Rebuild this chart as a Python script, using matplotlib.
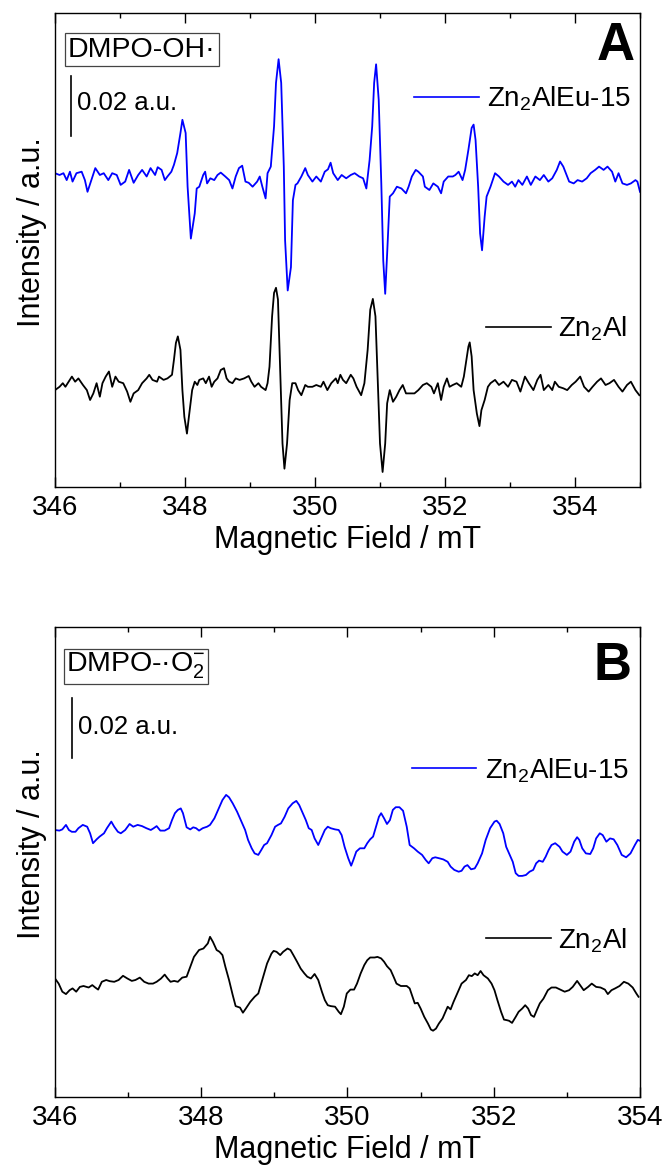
import matplotlib
matplotlib.use("Agg")
import matplotlib.pyplot as plt
from matplotlib.ticker import MultipleLocator

plt.rcParams['font.family'] = ['Liberation Sans', 'DejaVu Sans']
plt.rcParams['mathtext.fontset'] = 'custom'
plt.rcParams['mathtext.rm'] = 'Liberation Sans'
plt.rcParams['mathtext.it'] = 'Liberation Sans:italic'
plt.rcParams['mathtext.bf'] = 'Liberation Sans:bold'
plt.rcParams['lines.solid_joinstyle'] = 'round'

# ---------------- DATA (field in mT, intensity in 1e-3 a.u.) ----------------
# Panel A: DMPO-OH·
fieldA_eu = [346.00,346.07,346.13,346.18,346.23,346.27,346.33,346.41,346.46,346.50,346.56,346.62,346.69,346.75,346.82,346.88,346.95,347.01,347.08,347.14,
             347.21,347.28,347.34,347.41,347.47,347.54,347.58,347.64,347.69,347.73,347.79,347.83,347.88,347.93,347.96,348.01,348.04,348.09,348.15,348.18,
             348.22,348.28,348.31,348.34,348.39,348.45,348.50,348.55,348.62,348.68,348.73,348.78,348.83,348.88,348.93,348.98,349.04,349.11,349.15,349.19,
             349.24,349.27,349.32,349.37,349.40,349.44,349.48,349.52,349.54,349.58,349.63,349.66,349.70,349.73,349.79,349.85,349.89,349.96,350.02,350.09,
             350.15,350.20,350.24,350.28,350.35,350.41,350.48,350.55,350.61,350.68,350.74,350.79,350.84,350.88,350.91,350.94,350.98,351.02,351.05,351.08,
             351.11,351.15,351.20,351.26,351.33,351.40,351.44,351.49,351.55,351.59,351.66,351.69,351.76,351.82,351.89,351.94,351.98,352.05,352.12,352.16,
             352.21,352.27,352.31,352.36,352.41,352.44,352.47,352.51,352.54,352.57,352.61,352.64,352.70,352.77,352.83,352.90,352.97,353.03,353.08,353.13,
             353.19,353.26,353.32,353.39,353.46,353.52,353.59,353.65,353.72,353.77,353.82,353.86,353.91,353.98,354.04,354.11,354.18,354.24,354.31,354.37,
             354.44,354.50,354.57,354.62,354.67,354.73,354.80,354.86,354.93,354.96,355.00]
intA_eu = [1.7,1.1,1.7,-0.6,2.2,-1.1,1.7,2.2,-0.6,-4.5,-0.6,3.4,1.1,1.7,-0.6,1.7,1.1,-2.2,-1.1,2.8,
           -1.5,1.1,2.8,0.6,3.4,1.1,3.7,2.8,-0.6,0.6,2.2,4.5,8.4,15.1,19.5,15.1,-2.8,-20.1,-11.7,-3.4,
           -2.8,1.1,2.2,-1.7,0.0,-0.6,1.1,1.9,0.6,-0.6,-3.4,0.6,3.4,4.2,-1.1,-1.5,-2.8,-1.1,0.6,-2.8,
           -6.7,1.7,3.9,17.3,31.8,39.7,31.8,3.9,-20.7,-37.4,-29.6,-7.3,-2.2,-1.7,0.6,3.4,1.1,-1.1,0.6,-1.1,
           2.2,3.0,5.2,1.7,-0.6,1.1,0.0,1.1,1.7,0.6,0.0,-3.4,6.1,17.3,31.8,38.0,26.2,-1.7,-27.4,-38.5,
           -25.1,-6.1,-5.0,-2.8,-3.4,-5.0,-2.8,0.6,2.8,2.2,0.6,-2.8,-3.9,-1.7,-2.8,-5.0,-1.1,0.6,0.6,1.1,
           2.2,-0.6,2.8,9.5,16.8,17.9,12.8,-2.8,-18.4,-24.0,-12.8,-6.1,-2.8,1.7,0.6,-1.1,-2.2,-1.1,-2.8,-0.6,
           -2.2,0.6,-2.2,0.6,-0.6,1.1,-1.1,0.0,2.8,5.6,3.9,1.7,-1.1,-1.7,-0.6,-1.1,0.0,1.7,2.8,3.9,
           2.8,3.9,2.2,-1.1,1.7,-1.7,-2.2,-1.7,-0.6,-1.1,-4.5]

fieldA_al = [346.00,346.07,346.12,346.16,346.21,346.26,346.31,346.36,346.43,346.49,346.54,346.59,346.64,346.69,346.73,346.78,346.83,346.88,346.93,346.98,
             347.05,347.11,347.16,347.21,347.28,347.34,347.41,347.45,347.50,347.57,347.60,347.67,347.73,347.80,347.83,347.86,347.89,347.93,347.96,347.99,
             348.03,348.06,348.11,348.15,348.19,348.22,348.28,348.32,348.37,348.41,348.45,348.50,348.55,348.60,348.64,348.68,348.73,348.78,348.84,348.91,
             348.98,349.02,349.07,349.13,349.17,349.24,349.27,349.30,349.34,349.37,349.40,349.43,349.47,349.50,349.53,349.57,349.61,349.65,349.70,349.74,
             349.79,349.85,349.89,349.96,350.02,350.09,350.13,350.19,350.25,350.32,350.35,350.39,350.43,350.48,350.55,350.59,350.64,350.71,350.76,350.81,
             350.85,350.89,350.93,350.97,351.00,351.04,351.08,351.11,351.15,351.20,351.25,351.30,351.35,351.40,351.46,351.53,351.59,351.66,351.72,351.79,
             351.83,351.89,351.94,351.98,352.03,352.07,352.12,352.18,352.25,352.29,352.33,352.36,352.38,352.41,352.44,352.49,352.53,352.56,352.61,352.66,
             352.70,352.77,352.83,352.90,352.97,353.03,353.10,353.16,353.23,353.29,353.36,353.42,353.47,353.52,353.59,353.65,353.69,353.75,353.82,353.88,
             353.95,354.01,354.08,354.14,354.21,354.27,354.34,354.40,354.47,354.53,354.60,354.67,354.73,354.80,354.86,354.93,354.99]
intA_al = [-1.7,-0.6,0.6,-0.6,1.1,2.8,1.1,2.2,0.0,-1.7,-5.0,-2.8,0.6,-3.9,0.6,2.8,4.5,-0.6,2.8,1.1,
           0.6,-2.2,-5.6,-2.8,-1.7,0.6,2.2,3.4,1.7,1.1,2.8,1.7,2.2,3.4,8.4,14.0,16.2,11.7,-1.7,-10.6,
           -16.2,-10.6,-1.7,1.1,0.0,1.7,2.2,0.6,2.8,-0.6,1.1,2.2,5.0,5.6,2.2,1.1,0.6,2.2,1.7,2.2,
           3.0,1.1,-0.6,0.6,-0.6,-1.7,0.6,6.1,22.9,30.7,32.4,28.5,0.6,-19.5,-27.9,-19.5,-5.0,0.6,0.6,-1.7,
           -3.4,0.0,-0.6,-0.6,0.0,-0.6,1.1,-1.7,0.6,2.2,0.6,3.4,1.7,0.6,3.4,2.2,-0.6,-3.4,0.6,11.7,
           25.1,28.7,22.9,-1.7,-19.5,-29.0,-19.5,-6.1,-1.7,-5.6,-3.9,-1.7,0.0,-2.8,-2.8,-2.8,-1.7,0.0,0.6,-0.6,
           -2.8,0.6,-5.0,-0.6,2.2,-0.6,0.0,0.6,-0.6,2.8,8.4,12.8,14.2,9.5,-1.7,-9.5,-13.7,-8.4,-5.0,-0.6,
           0.6,1.7,0.0,1.1,-0.6,1.7,1.1,-2.2,2.8,0.6,-1.7,1.7,3.4,-1.7,0.0,-1.7,1.1,-0.6,-1.1,-1.7,
           0.0,1.1,2.8,-0.6,-2.2,-0.6,1.1,2.2,0.0,0.6,1.7,-0.6,-2.2,0.0,1.1,-1.7,-3.4]

# Panel B: DMPO-·O2-
fieldB_eu = [346.00,346.06,346.10,346.15,346.19,346.23,346.28,346.32,346.38,346.44,346.48,346.52,346.57,346.61,346.67,346.71,346.77,346.81,346.86,346.90,
             346.96,347.02,347.07,347.13,347.19,347.25,347.31,347.35,347.39,347.44,347.50,347.56,347.60,347.64,347.68,347.72,347.75,347.80,347.85,347.89,
             347.93,347.97,348.02,348.08,348.12,348.18,348.24,348.29,348.34,348.38,348.43,348.49,348.54,348.60,348.64,348.69,348.73,348.78,348.82,348.86,
             348.90,348.96,349.01,349.05,349.09,349.14,349.19,349.25,349.30,349.34,349.38,349.43,349.47,349.51,349.55,349.60,349.65,349.69,349.73,349.77,
             349.83,349.88,349.92,349.96,350.01,350.05,350.08,350.12,350.17,350.23,350.27,350.31,350.35,350.39,350.43,350.46,350.50,350.54,350.58,350.62,
             350.66,350.71,350.76,350.81,350.85,350.91,350.96,351.02,351.07,351.11,351.16,351.20,351.25,351.31,351.37,351.41,351.46,351.52,351.56,351.60,
             351.64,351.69,351.74,351.78,351.84,351.89,351.95,352.01,352.04,352.08,352.13,352.17,352.21,352.26,352.30,352.34,352.39,352.44,352.49,352.54,
             352.58,352.62,352.67,352.71,352.75,352.79,352.84,352.90,352.94,353.00,353.05,353.10,353.14,353.17,353.21,353.26,353.32,353.36,353.40,353.45,
             353.49,353.54,353.59,353.64,353.69,353.75,353.81,353.87,353.93,353.97,354.00]
intB_eu = [0.0,-0.2,0.2,1.7,0.0,-0.6,-0.6,0.6,1.7,1.1,-1.1,-4.4,-3.1,-2.2,-1.1,0.6,2.8,1.1,-0.6,-1.1,
           0.0,2.0,1.1,1.7,1.3,0.6,0.0,0.6,1.3,-0.2,-0.2,0.6,3.3,5.6,6.7,7.2,5.6,0.9,0.2,0.9,
           0.6,-0.2,0.6,1.1,1.7,3.9,7.2,10.0,11.7,10.9,8.9,6.1,3.3,0.0,-3.3,-6.1,-7.8,-8.3,-6.7,-5.0,
           -4.4,-1.7,1.1,1.7,2.2,4.4,7.2,8.9,9.7,8.3,6.1,3.3,0.6,0.0,-2.8,-5.0,-2.2,0.0,1.1,0.6,
           0.2,0.0,-1.7,-5.6,-9.4,-11.9,-10.0,-7.2,-6.1,-6.1,-4.4,-3.1,-2.2,1.1,4.4,5.6,3.9,2.0,3.3,6.7,
           7.6,7.6,6.4,1.1,-5.0,-6.1,-7.2,-8.3,-10.0,-11.1,-9.4,-9.1,-9.4,-9.8,-10.6,-12.2,-13.3,-13.9,-13.6,-12.2,
           -11.7,-13.1,-12.8,-11.1,-7.8,-3.3,0.6,2.8,3.1,2.0,-1.1,-5.6,-7.8,-10.6,-14.4,-15.3,-15.3,-15.0,-13.9,-13.3,
           -11.1,-10.2,-10.6,-8.9,-6.7,-5.0,-4.4,-5.6,-7.2,-8.3,-7.2,-3.9,-2.4,-3.3,-6.1,-7.8,-8.0,-6.1,-2.8,-1.1,
           -1.7,-3.9,-2.8,-3.1,-5.0,-8.3,-9.1,-7.8,-5.0,-3.3,-3.6]

fieldB_al = [346.00,346.05,346.10,346.15,346.20,346.24,346.29,346.34,346.39,346.46,346.51,346.55,346.59,346.64,346.70,346.75,346.81,346.87,346.93,346.99,
             347.05,347.10,347.16,347.22,347.28,347.34,347.39,347.45,347.50,347.54,347.58,347.63,347.68,347.74,347.80,347.85,347.90,347.97,348.03,348.09,
             348.12,348.16,348.21,348.25,348.29,348.33,348.38,348.43,348.47,348.53,348.57,348.61,348.67,348.73,348.78,348.82,348.86,348.90,348.96,348.99,
             349.03,349.08,349.12,349.18,349.22,349.26,349.31,349.36,349.41,349.45,349.50,349.55,349.60,349.65,349.69,349.73,349.77,349.83,349.88,349.91,
             349.95,349.99,350.04,350.09,350.13,350.18,350.23,350.27,350.31,350.37,350.41,350.46,350.50,350.54,350.59,350.63,350.67,350.73,350.81,350.85,
             350.89,350.92,350.96,351.00,351.05,351.10,351.14,351.17,351.21,351.25,351.30,351.34,351.37,351.41,351.45,351.50,351.56,351.62,351.66,351.70,
             351.74,351.78,351.82,351.86,351.92,351.97,352.01,352.05,352.10,352.14,352.18,352.21,352.25,352.30,352.34,352.39,352.43,352.47,352.51,352.55,
             352.59,352.63,352.68,352.74,352.79,352.85,352.91,352.97,353.03,353.08,353.14,353.19,353.23,353.29,353.34,353.40,353.46,353.52,353.56,353.61,
             353.66,353.72,353.78,353.84,353.90,353.95,353.98]
intB_al = [1.1,-0.6,-3.3,-4.1,-2.8,-2.2,-3.3,-1.7,-1.4,-1.9,-1.1,-1.9,-2.6,0.0,0.6,0.2,0.0,0.6,2.0,1.1,
           0.3,0.6,1.4,0.0,-0.6,-0.6,0.0,1.1,2.4,1.1,0.0,0.3,0.0,1.4,1.7,5.0,8.3,10.6,11.1,12.8,
           15.0,13.3,10.6,10.0,8.9,5.0,0.6,-4.4,-8.1,-8.6,-10.3,-8.9,-6.7,-5.0,-3.9,-0.6,2.8,6.1,9.4,10.3,
           10.0,8.9,10.0,11.1,10.6,8.9,6.7,4.4,2.8,1.7,1.1,2.6,0.6,-3.3,-6.1,-7.8,-8.1,-8.3,-10.0,-10.8,
           -8.3,-3.9,-2.6,-2.6,-0.6,2.8,5.6,7.2,8.1,8.1,8.3,7.8,6.7,5.2,3.9,1.7,-0.6,-1.4,-1.4,-2.2,
           -5.0,-7.2,-7.0,-8.9,-11.7,-13.9,-15.9,-16.3,-15.6,-13.9,-12.2,-10.0,-8.3,-9.2,-6.7,-3.9,-0.6,0.6,2.2,1.9,
           2.8,2.2,3.6,2.2,1.1,-0.6,-2.8,-6.1,-10.0,-12.6,-12.8,-13.0,-13.7,-11.7,-10.0,-8.9,-7.8,-8.9,-11.1,-11.7,
           -9.4,-7.2,-5.6,-2.8,-1.9,-1.9,-2.6,-3.3,-2.8,-1.7,0.3,-1.4,-2.8,-1.7,-0.6,-1.7,-1.9,-2.6,-4.1,-2.8,
           -2.2,-1.4,0.0,-0.6,-1.9,-3.9,-5.0]

xticks_A = [346, 348, 350, 352, 354]
xticks_B = [346, 348, 350, 352, 354]
scale_bar = 20.0   # 0.02 a.u. in 1e-3 a.u.

# ---------------- STYLE / LAYOUT ----------------
BLUE = '#0000ff'
off_A = {'eu': 102.9, 'al': 34.0}
off_B = {'eu': 89.0, 'al': 38.4}

fig = plt.figure(figsize=(6.66, 11.74), dpi=100)
axA = fig.add_axes([0.08258, 0.58518, 0.87838, 0.40375])
axB = fig.add_axes([0.08258, 0.06559, 0.87838, 0.40034])

def style(ax, xlim, ylim, ticks):
    ax.set_xlim(*xlim)
    ax.set_ylim(*ylim)
    ax.set_xticks(ticks)
    ax.xaxis.set_minor_locator(MultipleLocator(1))
    ax.set_yticks([])
    ax.tick_params(axis='x', which='both', direction='in', top=True, bottom=True,
                   labelsize=20, pad=5.5, width=1.0)
    ax.tick_params(axis='x', which='major', length=7.2)
    ax.tick_params(axis='x', which='minor', length=3.6)
    for s in ax.spines.values():
        s.set_linewidth(1.0)
    ax.set_xlabel('Magnetic Field / mT', fontsize=22, labelpad=3)
    ax.set_ylabel('Intensity / a.u.', fontsize=22)
    ax.yaxis.set_label_coords(-0.014, 0.538)

def legend_entry(ax, x0, x1, yline, ytext, xtext, color, label):
    ax.plot([x0, x1], [yline, yline], color=color, lw=1.2, transform=ax.transAxes)
    ax.text(xtext, ytext, label, transform=ax.transAxes, fontsize=20,
            ha='left', va='baseline')

# Panel A
axA.plot(fieldA_eu, [v + off_A['eu'] for v in intA_eu], color=BLUE, lw=1.3)
axA.plot(fieldA_al, [v + off_A['al'] for v in intA_al], color='black', lw=1.3)
style(axA, (346, 355), (0, 158), xticks_A)
axA.plot([346.24, 346.24], [117.0, 117.0 + scale_bar], color='black', lw=1.2)
axA.text(346.34, 128.1, '0.02 a.u.', fontsize=18.5, ha='left', va='center')
axA.text(0.0222, 0.9078, 'DMPO-OH\u00b7', transform=axA.transAxes, fontsize=20.5,
         ha='left', va='baseline',
         bbox=dict(boxstyle='square,pad=0.12', fc='white', ec='#444444', lw=0.9))
axA.text(0.9915, 0.9008, 'A', transform=axA.transAxes, fontsize=38,
         fontweight='bold', ha='right', va='baseline')
legend_entry(axA, 0.6137, 0.7248, 0.8228, 0.8017, 0.7385, BLUE, 'Zn$_2$AlEu-15')
legend_entry(axA, 0.7368, 0.8479, 0.3376, 0.3165, 0.8598, 'black', 'Zn$_2$Al')

# Panel B
axB.plot(fieldB_eu, [v + off_B['eu'] for v in intB_eu], color=BLUE, lw=1.3)
axB.plot(fieldB_al, [v + off_B['al'] for v in intB_al], color='black', lw=1.3)
style(axB, (346, 354), (0, 156.67), xticks_B)
axB.plot([346.23, 346.23], [113.0, 113.0 + scale_bar], color='black', lw=1.2)
axB.text(346.32, 123.3, '0.02 a.u.', fontsize=18.5, ha='left', va='center')
axB.text(0.0188, 0.9043, 'DMPO-\u00b7O$_2^{-}$', transform=axB.transAxes, fontsize=20.5,
         ha='left', va='baseline',
         bbox=dict(boxstyle='square,pad=0.08', fc='white', ec='#444444', lw=0.9))
axB.text(0.9863, 0.8872, 'B', transform=axB.transAxes, fontsize=38,
         fontweight='bold', ha='right', va='baseline')
legend_entry(axB, 0.6103, 0.7197, 0.7000, 0.6787, 0.7350, BLUE, 'Zn$_2$AlEu-15')
legend_entry(axB, 0.7368, 0.8479, 0.3383, 0.3149, 0.8598, 'black', 'Zn$_2$Al')

fig.savefig('out.png', dpi=100)
